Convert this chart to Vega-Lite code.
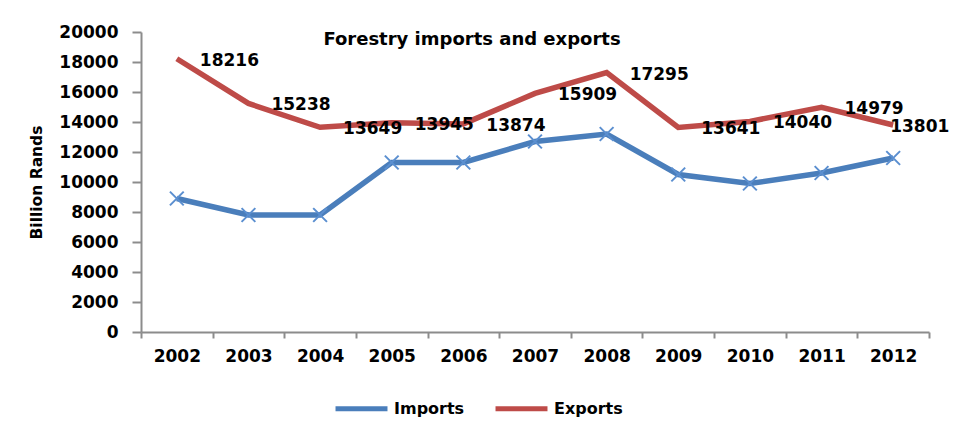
{
  "$schema": "https://vega.github.io/schema/vega-lite/v6.json",
  "width": 788,
  "height": 300,
  "autosize": {"type": "none"},
  "padding": {"left": 141, "top": 32, "right": 30, "bottom": 102},
  "background": "white",
  "title": {
    "text": "Forestry imports and exports",
    "anchor": "middle",
    "dx": -63,
    "offset": -26,
    "font": "DejaVu Sans",
    "fontSize": 18,
    "fontWeight": "bold",
    "color": "black"
  },
  "config": {
    "view": {"stroke": null},
    "font": "DejaVu Sans"
  },
  "data": {
    "values": [
      {"year": 2002, "series": "Imports", "value": 8900},
      {"year": 2003, "series": "Imports", "value": 7800},
      {"year": 2004, "series": "Imports", "value": 7800},
      {"year": 2005, "series": "Imports", "value": 11300},
      {"year": 2006, "series": "Imports", "value": 11300},
      {"year": 2007, "series": "Imports", "value": 12700},
      {"year": 2008, "series": "Imports", "value": 13200},
      {"year": 2009, "series": "Imports", "value": 10500},
      {"year": 2010, "series": "Imports", "value": 9900},
      {"year": 2011, "series": "Imports", "value": 10600},
      {"year": 2012, "series": "Imports", "value": 11600},
      {"year": 2002, "series": "Exports", "value": 18216},
      {"year": 2003, "series": "Exports", "value": 15238},
      {"year": 2004, "series": "Exports", "value": 13649},
      {"year": 2005, "series": "Exports", "value": 13945},
      {"year": 2006, "series": "Exports", "value": 13874},
      {"year": 2007, "series": "Exports", "value": 15909},
      {"year": 2008, "series": "Exports", "value": 17295},
      {"year": 2009, "series": "Exports", "value": 13641},
      {"year": 2010, "series": "Exports", "value": 14040},
      {"year": 2011, "series": "Exports", "value": 14979},
      {"year": 2012, "series": "Exports", "value": 13801}
    ]
  },
  "encoding": {
    "x": {
      "field": "year",
      "type": "quantitative",
      "scale": {"domain": [2001.5, 2012.5], "nice": false, "zero": false},
      "axis": {
        "title": null,
        "values": [2001.5, 2002, 2002.5, 2003, 2003.5, 2004, 2004.5, 2005, 2005.5, 2006, 2006.5, 2007, 2007.5, 2008, 2008.5, 2009, 2009.5, 2010, 2010.5, 2011, 2011.5, 2012, 2012.5],
        "labelExpr": "datum.value % 1 === 0 ? format(datum.value, 'd') : ''",
        "tickOpacity": {"expr": "datum.value % 1 === 0 ? 0 : 1"},
        "labelOverlap": false,
        "grid": false,
        "domainColor": "#8c8c8c",
        "domainWidth": 2,
        "tickColor": "#8c8c8c",
        "tickWidth": 2,
        "tickSize": 6,
        "labelFont": "DejaVu Sans",
        "labelFontSize": 17,
        "labelFontWeight": "bold",
        "labelColor": "black",
        "labelPadding": 10
      }
    },
    "y": {
      "field": "value",
      "type": "quantitative",
      "scale": {"domain": [0, 20000], "nice": false},
      "axis": {
        "title": "Billion Rands",
        "values": [0, 2000, 4000, 6000, 8000, 10000, 12000, 14000, 16000, 18000, 20000],
        "format": "d",
        "grid": false,
        "domainColor": "#8c8c8c",
        "domainWidth": 2,
        "tickColor": "#8c8c8c",
        "tickWidth": 2,
        "tickSize": 9,
        "labelFont": "DejaVu Sans",
        "labelFontSize": 17,
        "labelFontWeight": "bold",
        "labelColor": "black",
        "labelPadding": 14,
        "titleFont": "DejaVu Sans",
        "titleFontSize": 15.5,
        "titleFontWeight": "bold",
        "titleColor": "black",
        "titlePadding": 14
      }
    }
  },
  "layer": [
    {
      "mark": {"type": "line", "strokeWidth": 5.5, "strokeJoin": "miter"},
      "encoding": {
        "color": {
          "field": "series",
          "type": "nominal",
          "scale": {"domain": ["Imports", "Exports"], "range": ["#4A7EBB", "#BE4B48"]},
          "legend": {
            "title": null,
            "orient": "none",
            "direction": "horizontal",
            "legendX": 192,
            "legendY": 348,
            "symbolType": "stroke",
            "symbolStrokeWidth": 5,
            "symbolSize": 2700,
            "labelFont": "DejaVu Sans",
            "labelFontSize": 16,
            "labelFontWeight": "bold",
            "labelColor": "black",
            "labelOffset": 4,
            "columnPadding": 20
          }
        }
      }
    },
    {
      "transform": [{"filter": "datum.series === 'Imports'"}],
      "mark": {
        "type": "point",
        "shape": "M-1,-1L1,1M-1,1L1,-1",
        "filled": false,
        "stroke": "#5B8FD0",
        "strokeWidth": 2,
        "size": 190,
        "opacity": 1
      }
    },
    {
      "transform": [{"filter": "datum.series === 'Exports'"}],
      "mark": {
        "type": "text",
        "align": "left",
        "baseline": "middle",
        "dx": {"expr": "datum.year === 2012 ? -3 : 23"},
        "dy": 2,
        "font": "DejaVu Sans",
        "fontSize": 17,
        "fontWeight": "bold",
        "color": "black"
      },
      "encoding": {
        "text": {"field": "value", "type": "quantitative", "format": "d"}
      }
    }
  ]
}
